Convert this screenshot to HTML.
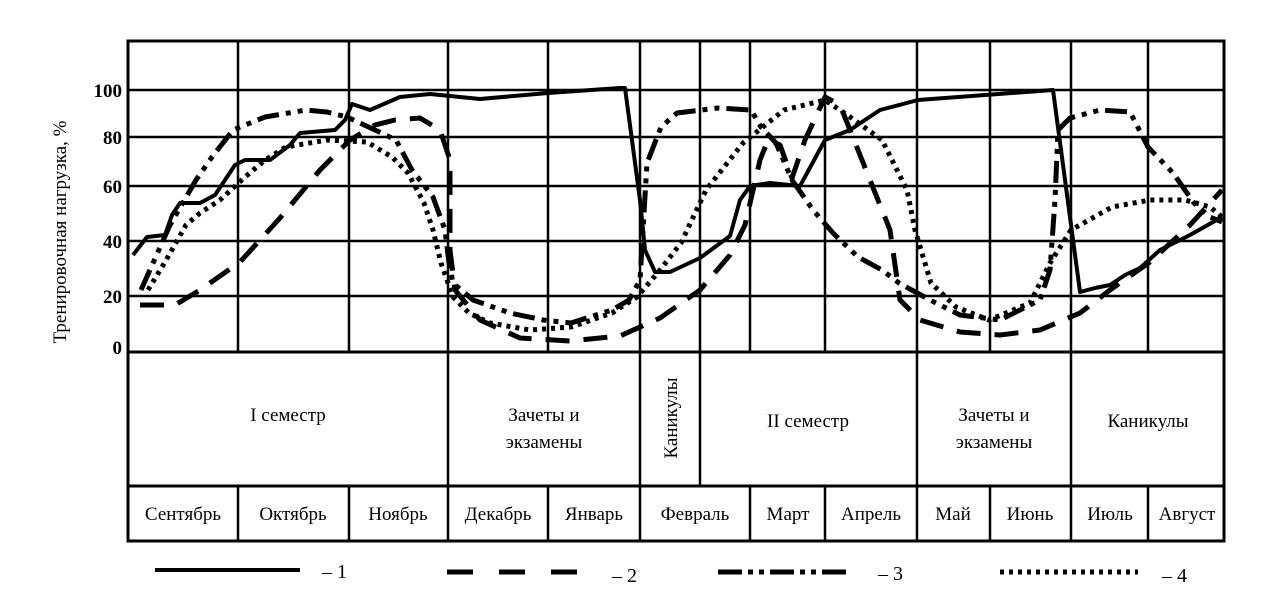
<!DOCTYPE html>
<html><head><meta charset="utf-8"><style>
html,body{margin:0;padding:0;background:#fff;}
svg{display:block;}
text{font-family:"Liberation Serif","DejaVu Serif",serif;fill:#000;}
</style></head><body>
<svg width="1263" height="590" viewBox="0 0 1263 590" xmlns="http://www.w3.org/2000/svg">
<g stroke="#000" stroke-width="2.5" fill="none">
<rect x="128" y="41" width="1096" height="500" stroke-width="3"/>
<line x1="128" y1="90" x2="1224" y2="90"/>
<line x1="128" y1="137" x2="1224" y2="137"/>
<line x1="128" y1="186" x2="1224" y2="186"/>
<line x1="128" y1="241" x2="1224" y2="241"/>
<line x1="128" y1="296" x2="1224" y2="296"/>
<line x1="128" y1="352" x2="1224" y2="352" stroke-width="3"/>
<line x1="128" y1="486" x2="1224" y2="486" stroke-width="3"/>
<g>
<line x1="238" y1="41" x2="238" y2="352"/><line x1="349" y1="41" x2="349" y2="352"/>
<line x1="548" y1="41" x2="548" y2="352"/><line x1="750" y1="41" x2="750" y2="352"/>
<line x1="825" y1="41" x2="825" y2="352"/><line x1="990" y1="41" x2="990" y2="352"/>
<line x1="1148" y1="41" x2="1148" y2="352"/>
<line x1="448" y1="41" x2="448" y2="541"/><line x1="640" y1="41" x2="640" y2="541"/>
<line x1="700" y1="41" x2="700" y2="486"/><line x1="917" y1="41" x2="917" y2="541"/>
<line x1="1071" y1="41" x2="1071" y2="541"/>
<line x1="238" y1="486" x2="238" y2="541"/><line x1="349" y1="486" x2="349" y2="541"/>
<line x1="548" y1="486" x2="548" y2="541"/><line x1="750" y1="486" x2="750" y2="541"/>
<line x1="825" y1="486" x2="825" y2="541"/><line x1="990" y1="486" x2="990" y2="541"/>
<line x1="1148" y1="486" x2="1148" y2="541"/>
</g>
</g>
<g stroke="#000" fill="none" stroke-linejoin="round">
<polyline stroke-width="4" points="133,255 147,237 165,235 172,215 180,203 200,203 215,195 235,165 245,160 270,160 290,145 300,133 335,130 345,120 352,104 370,110 400,97 430,94 480,99 548,93 620,88 625,88 640,200 645,250 655,272 670,272 700,258 730,236 740,200 750,186 770,183 800,186 825,140 850,130 880,110 918,100 1053,90 1080,292 1095,288 1110,285 1125,275 1140,268 1160,250 1190,235 1222,217"/>
<polyline stroke-width="5" stroke-dasharray="24,14" points="140,305 175,305 200,290 240,262 280,218 320,170 350,140 375,125 395,120 420,118 440,130 450,160 450,250 455,290 480,320 520,338 570,341 620,336 660,318 700,290 730,255 745,225 760,160 768,140 780,145 792,178 805,140 825,97 840,105 860,155 890,230 900,300 920,320 960,332 1000,335 1040,330 1080,313 1110,290 1150,262 1190,225 1222,190"/>
<polyline stroke-width="5" stroke-dasharray="22,7,5,7,5,7" points="141,290 170,225 196,180 212,157 233,130 265,117 306,110 327,112 347,117 375,130 396,140 412,170 433,197 445,230 449,263 453,283 473,300 510,313 543,320 571,323 612,310 629,300 640,280 647,163 661,127 677,113 718,108 751,110 761,127 776,143 792,180 813,210 833,233 858,257 882,270 899,283 930,300 960,315 1000,320 1040,300 1050,270 1055,200 1058,130 1070,118 1100,110 1130,112 1148,147 1173,173 1194,203 1210,217 1222,222"/>
<polyline stroke-width="5" stroke-dasharray="4,5" points="148,290 165,262 186,225 200,213 220,200 245,177 265,160 286,147 327,140 367,142 392,157 408,173 424,203 433,230 441,263 453,297 469,313 490,323 530,330 571,327 612,313 637,297 660,270 681,243 706,190 743,143 784,110 825,100 850,117 882,140 907,190 915,230 931,283 956,307 989,320 1030,303 1050,263 1071,230 1112,207 1150,200 1185,200 1210,207 1222,217"/>
</g>
<g font-size="19" font-weight="bold" text-anchor="end">
<text x="122" y="97">100</text><text x="122" y="144">80</text><text x="122" y="193">60</text>
<text x="122" y="248">40</text><text x="122" y="303">20</text><text x="122" y="354">0</text>
</g>
<text x="0" y="0" font-size="19" text-anchor="middle" transform="translate(66,232) rotate(-90)">Тренировочная нагрузка, %</text>
<g font-size="19" text-anchor="middle">
<text x="288" y="421">I семестр</text>
<text x="544" y="421">Зачеты и</text><text x="544" y="448">экзамены</text>
<text x="808" y="427">II семестр</text>
<text x="994" y="421">Зачеты и</text><text x="994" y="448">экзамены</text>
<text x="1148" y="427">Каникулы</text>
<text x="0" y="0" transform="translate(677,418) rotate(-90)">Каникулы</text>
<text x="183" y="520">Сентябрь</text><text x="293" y="520">Октябрь</text><text x="398" y="520">Ноябрь</text>
<text x="498" y="520">Декабрь</text><text x="594" y="520">Январь</text><text x="695" y="520">Февраль</text>
<text x="788" y="520">Март</text><text x="871" y="520">Апрель</text><text x="953" y="520">Май</text>
<text x="1030" y="520">Июнь</text><text x="1110" y="520">Июль</text><text x="1187" y="520">Август</text>
</g>
<g stroke="#000" fill="none">
<line x1="155" y1="570" x2="300" y2="570" stroke-width="4"/>
<line x1="447" y1="572" x2="585" y2="572" stroke-width="5" stroke-dasharray="26,26"/>
<line x1="718" y1="572" x2="850" y2="572" stroke-width="5" stroke-dasharray="24,6,5,6,5,6"/>
<line x1="1000" y1="572" x2="1138" y2="572" stroke-width="5" stroke-dasharray="4,5"/>
</g>
<g font-size="20">
<text x="322" y="578">– 1</text><text x="612" y="582">– 2</text>
<text x="878" y="580">– 3</text><text x="1162" y="582">– 4</text>
</g>
</svg>
</body></html>
